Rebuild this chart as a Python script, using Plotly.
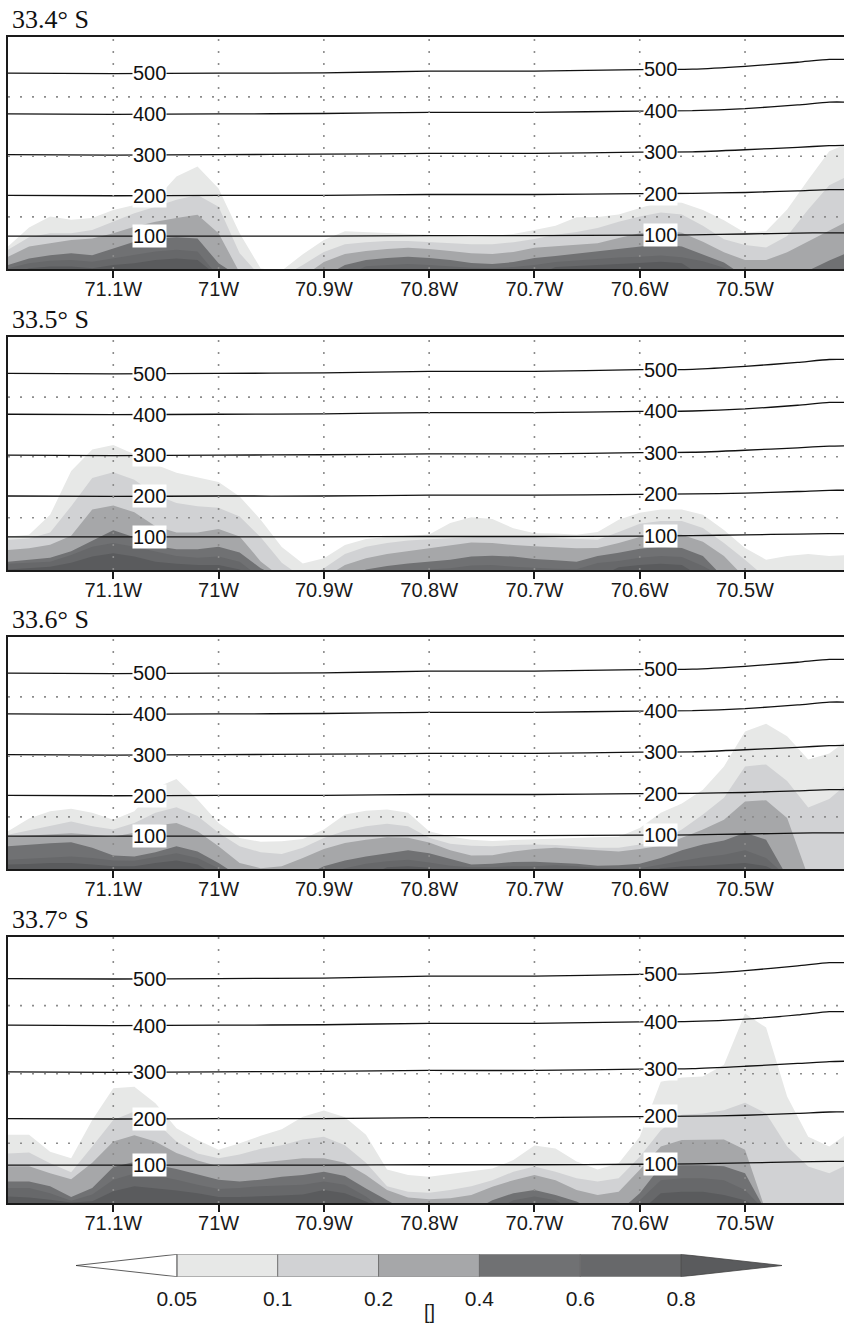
import numpy as np
import plotly.graph_objects as go

# ---------------- data ----------------
lon = [-71.20, -71.18, -71.16, -71.14, -71.12, -71.10, -71.08, -71.06, -71.04, -71.02,
       -71.00, -70.98, -70.96, -70.94, -70.92, -70.90, -70.88, -70.86, -70.84, -70.82,
       -70.80, -70.78, -70.76, -70.74, -70.72, -70.70, -70.68, -70.66, -70.64, -70.62,
       -70.60, -70.58, -70.56, -70.54, -70.52, -70.50, -70.48, -70.46, -70.44, -70.42,
       -70.40]

levels = [0.05, 0.1, 0.2, 0.4, 0.6, 0.8]
level_labels = ["0.05", "0.1", "0.2", "0.4", "0.6", "0.8"]
fill_colors = ["#e7e8e7", "#d1d2d4", "#a6a7a9", "#707173", "#67686a", "#5a5b5d"]

panel_titles = ["33.4° S", "33.5° S", "33.6° S", "33.7° S"]

# height (m) below which the field exceeds each level, panel 1 .. 4
p1_005 = [74, 121, 148, 140, 144, 164, 176, 189, 246, 271, 217, 107, 20, 15, 55, 90, 112, 110, 108, 105,
          103, 100, 98, 100, 105, 115, 125, 146, 147, 153, 169, 184, 182, 164, 139, 108, 112, 165, 238, 308, 330]
p1_01 = [66, 97, 107, 107, 115, 135, 156, 172, 189, 201, 172, 58, 0, 0, 29, 61, 80, 85, 88, 88,
         85, 83, 80, 80, 85, 93, 103, 110, 120, 135, 148, 158, 153, 125, 92, 78, 72, 100, 165, 225, 250]
p1_02 = [49, 74, 82, 90, 94, 107, 123, 135, 144, 152, 107, 10, 0, 0, 0, 36, 56, 63, 68, 71,
         68, 63, 58, 56, 61, 71, 75, 78, 82, 95, 107, 113, 108, 86, 60, 41, 41, 60, 86, 113, 140]
p1_04 = [29, 45, 53, 58, 53, 70, 86, 94, 97, 94, 33, 0, 0, 0, 0, 0, 29, 41, 46, 49,
         46, 41, 34, 31, 36, 46, 51, 57, 63, 69, 74, 80, 74, 55, 35, 0, 0, 0, 15, 40, 62]
p1_06 = [21, 33, 39, 41, 37, 45, 53, 62, 66, 62, 0, 0, 0, 0, 0, 0, 0, 26, 29, 31,
         29, 26, 22, 21, 24, 29, 36, 40, 44, 47, 49, 52, 48, 38, 22, 0, 0, 0, 0, 0, 30]
p1_08 = [0, 21, 25, 25, 21, 29, 33, 41, 45, 41, 0, 0, 0, 0, 0, 0, 0, 0, 0, 0,
         0, 0, 0, 0, 0, 0, 24, 26, 29, 31, 34, 37, 33, 0, 0, 0, 0, 0, 0, 0, 0]

p2_005 = [101, 105, 154, 261, 314, 325, 302, 277, 257, 246, 234, 199, 142, 75, 35, 48, 80, 95, 100, 103,
          106, 134, 148, 144, 121, 109, 108, 105, 112, 142, 159, 167, 167, 154, 117, 73, 44, 53, 58, 53, 56]
p2_01 = [93, 96, 111, 175, 244, 258, 240, 203, 183, 175, 171, 150, 99, 37, 0, 23, 58, 76, 85, 91,
         94, 97, 99, 101, 101, 99, 97, 94, 93, 112, 132, 139, 139, 122, 85, 44, 0, 0, 0, 0, 0]
p2_02 = [68, 72, 81, 103, 167, 177, 160, 126, 111, 111, 119, 101, 40, 0, 0, 0, 31, 48, 58, 65,
         72, 80, 86, 85, 80, 77, 75, 72, 73, 85, 100, 108, 105, 88, 53, 0, 0, 0, 0, 0, 0]
p2_04 = [39, 44, 49, 65, 91, 116, 99, 78, 70, 70, 76, 62, 23, 0, 0, 0, 0, 20, 29, 35,
         39, 44, 52, 54, 52, 46, 43, 39, 53, 61, 71, 76, 73, 53, 0, 0, 0, 0, 0, 0, 0]
p2_06 = [34, 36, 39, 56, 76, 85, 76, 64, 53, 49, 52, 39, 0, 0, 0, 0, 0, 0, 0, 0,
         20, 23, 30, 31, 27, 24, 22, 21, 36, 41, 49, 53, 51, 29, 0, 0, 0, 0, 0, 0, 0]
p2_08 = [20, 23, 27, 37, 52, 60, 52, 39, 34, 31, 31, 20, 0, 0, 0, 0, 0, 0, 0, 0,
         0, 0, 0, 0, 0, 0, 0, 0, 0, 26, 31, 34, 31, 0, 0, 0, 0, 0, 0, 0, 0]

p3_005 = [112, 143, 161, 167, 157, 140, 161, 218, 240, 190, 132, 95, 86, 87, 93, 116, 153, 162, 165, 157,
          112, 99, 91, 88, 90, 92, 93, 95, 97, 98, 120, 157, 180, 214, 271, 357, 376, 345, 288, 303, 341]
p3_01 = [103, 114, 126, 136, 124, 116, 132, 157, 171, 149, 108, 75, 60, 56, 71, 95, 113, 124, 130, 124,
         96, 81, 76, 75, 78, 79, 78, 75, 71, 71, 79, 89, 116, 153, 194, 271, 276, 235, 170, 191, 235]
p3_02 = [98, 101, 103, 107, 103, 98, 108, 126, 132, 112, 75, 34, 21, 26, 46, 68, 83, 91, 97, 96,
         84, 65, 52, 53, 62, 68, 71, 68, 65, 62, 68, 76, 96, 116, 140, 185, 188, 144, 0, 0, 0]
p3_04 = [75, 79, 82, 85, 71, 52, 50, 60, 75, 62, 34, 0, 0, 0, 0, 26, 40, 50, 58, 65,
         58, 44, 30, 32, 36, 37, 35, 32, 27, 28, 32, 46, 65, 79, 89, 108, 91, 0, 0, 0, 0]
p3_06 = [42, 45, 48, 50, 46, 40, 39, 48, 58, 46, 21, 0, 0, 0, 0, 0, 21, 32, 38, 42,
         35, 27, 23, 23, 26, 26, 28, 26, 21, 19, 21, 30, 40, 48, 54, 65, 46, 0, 0, 0, 0]
p3_08 = [30, 31, 34, 34, 30, 26, 26, 34, 40, 30, 0, 0, 0, 0, 0, 0, 0, 0, 23, 26,
         22, 0, 0, 0, 0, 0, 0, 0, 0, 0, 0, 21, 25, 27, 30, 34, 26, 0, 0, 0, 0]

p4_005 = [165, 165, 129, 115, 197, 265, 268, 233, 179, 154, 133, 147, 163, 177, 204, 217, 203, 165, 91, 79,
          75, 81, 86, 93, 111, 142, 136, 108, 91, 104, 161, 279, 288, 290, 315, 425, 395, 247, 161, 140, 172]
p4_01 = [125, 127, 104, 85, 140, 197, 215, 193, 151, 125, 115, 123, 135, 143, 155, 161, 143, 105, 55, 43,
         41, 47, 55, 68, 86, 97, 86, 72, 65, 72, 118, 175, 208, 211, 218, 234, 211, 140, 97, 83, 104]
p4_02 = [98, 98, 83, 70, 105, 151, 164, 151, 126, 110, 98, 102, 105, 110, 115, 115, 105, 79, 47, 31,
         27, 29, 36, 54, 68, 79, 68, 47, 36, 43, 90, 140, 154, 155, 155, 133, 0, 0, 0, 0, 0]
p4_04 = [65, 65, 55, 32, 51, 96, 107, 101, 92, 80, 69, 65, 69, 75, 79, 86, 77, 50, 25, 0,
         0, 0, 0, 25, 40, 47, 36, 22, 0, 0, 40, 98, 100, 100, 98, 83, 0, 0, 0, 0, 0]
p4_06 = [51, 51, 40, 24, 37, 69, 82, 78, 69, 58, 49, 51, 55, 57, 58, 65, 58, 33, 0, 0,
         0, 0, 0, 0, 25, 33, 25, 0, 0, 0, 25, 68, 72, 72, 68, 47, 0, 0, 0, 0, 0]
p4_08 = [33, 31, 26, 20, 23, 44, 55, 51, 46, 40, 32, 32, 33, 35, 37, 47, 40, 22, 0, 0,
         0, 0, 0, 0, 0, 0, 0, 0, 0, 0, 0, 40, 43, 43, 36, 25, 0, 0, 0, 0, 0]

panels = [
    [p1_005, p1_01, p1_02, p1_04, p1_06, p1_08],
    [p2_005, p2_01, p2_02, p2_04, p2_06, p2_08],
    [p3_005, p3_01, p3_02, p3_04, p3_06, p3_08],
    [p4_005, p4_01, p4_02, p4_04, p4_06, p4_08],
]

# height contour lines (same in every panel)
line_lon = [-71.2, -71.1, -71.0, -70.9, -70.8, -70.7, -70.6, -70.55, -70.5, -70.45, -70.42, -70.4]
line_levels = [100, 200, 300, 400, 500]
line_100 = [100, 100, 100, 100, 101, 101, 102, 103, 105, 107, 108, 108]
line_200 = [200, 199, 200, 200, 202, 202, 204, 205, 207, 211, 214, 214]
line_300 = [300, 299, 300, 301, 303, 303, 306, 307, 312, 318, 322, 323]
line_400 = [400, 399, 400, 401, 404, 404, 407, 408, 413, 422, 429, 429]
line_500 = [500, 499, 500, 501, 505, 505, 509, 510, 517, 527, 534, 534]
line_values = [line_100, line_200, line_300, line_400, line_500]
label_lons = [-71.066, -70.5805]

xtick_vals = [-71.1, -71.0, -70.9, -70.8, -70.7, -70.6, -70.5]
xtick_text = ["71.1W", "71W", "70.9W", "70.8W", "70.7W", "70.6W", "70.5W"]
ygrid_vals = [147, 296, 442]

for arrs in panels:
    for a in arrs:
        assert len(a) == len(lon), len(a)

# ---------------- layout geometry (pixels) ----------------
W, H = 844, 1327
panel_px = [(37, 269), (337, 570), (637, 869), (937, 1203)]
x_px = (8, 844)
x_range = [-71.2, -70.406]
y_range = [19, 589]

fig = go.Figure()
layout = dict(width=W, height=H, margin=dict(l=0, r=0, t=0, b=0),
              paper_bgcolor="white", plot_bgcolor="white", showlegend=False)

LABEL_FONT = "Liberation Sans Narrow, Arial Narrow, Liberation Sans, Arial"
shapes = []
annotations = []

for k, arrs in enumerate(panels):
    n = "" if k == 0 else str(k + 1)
    xa, ya = "x" + n, "y" + n
    top, bot = panel_px[k]
    # filled levels, light to dark
    for lev_vals, col in zip(arrs, fill_colors):
        fig.add_trace(go.Scatter(x=lon, y=lev_vals, mode="lines", fill="tozeroy",
                                 fillcolor=col, line=dict(width=0, color=col),
                                 hoverinfo="skip", xaxis=xa, yaxis=ya))
    # height contours
    for lv, vals in zip(line_levels, line_values):
        fig.add_trace(go.Scatter(x=line_lon, y=vals, mode="lines",
                                 line=dict(color="#111111", width=1.3, shape="spline", smoothing=0.6),
                                 hoverinfo="skip", xaxis=xa, yaxis=ya))
        for ll in label_lons:
            yv = float(np.interp(ll, line_lon, vals))
            annotations.append(dict(x=ll, y=yv, xref=xa, yref=ya, text=str(lv),
                                    showarrow=False, bgcolor="white", borderpad=0,
                                    font=dict(family="Liberation Sans, Arial", size=20, color="#111111")))
    # dotted grid above the fills
    for v in xtick_vals:
        shapes.append(dict(type="line", xref=xa, yref=ya + " domain", x0=v, x1=v, y0=0, y1=1,
                           line=dict(color="#8c8c8c", width=1.6, dash="2px,10px"), layer="above"))
    for v in ygrid_vals:
        shapes.append(dict(type="line", xref=xa + " domain", yref=ya, x0=0, x1=1, y0=v, y1=v,
                           line=dict(color="#8c8c8c", width=1.6, dash="2px,10px"), layer="above"))
    layout["xaxis" + n] = dict(domain=[x_px[0] / W, x_px[1] / W], range=x_range,
                               tickvals=xtick_vals, ticktext=xtick_text,
                               ticks="outside", ticklen=7, tickwidth=1.5, tickcolor="#1a1a1a",
                               ticklabelstandoff=-6,
                               showline=True, mirror=True, linecolor="#1a1a1a", linewidth=1.5,
                               showgrid=False, zeroline=False, anchor=ya,
                               tickfont=dict(family=LABEL_FONT, size=20, color="#1a1a1a"))
    layout["yaxis" + n] = dict(domain=[1 - bot / H, 1 - top / H], range=y_range,
                               showticklabels=False, ticks="", showgrid=False, zeroline=False,
                               showline=True, mirror=False, linecolor="#1a1a1a", linewidth=1.5,
                               anchor=xa)
    annotations.append(dict(x=10 / W, y=1 - (top - 18) / H, xref="paper", yref="paper",
                            xanchor="left", yanchor="middle", showarrow=False,
                            text=panel_titles[k],
                            font=dict(family="Liberation Serif, Times New Roman", size=26, color="#111111")))

# ---------------- colour bar ----------------
cb_x = "x5"
cb_y = "y5"
nb = len(levels) - 1
for j in range(nb):
    fig.add_trace(go.Scatter(x=[j, j + 1, j + 1, j, j], y=[0, 0, 1, 1, 0], mode="lines",
                             fill="toself", fillcolor=fill_colors[j],
                             line=dict(color="#6a6a6a", width=0.8),
                             hoverinfo="skip", xaxis=cb_x, yaxis=cb_y))
fig.add_trace(go.Scatter(x=[0, -1, 0, 0], y=[0, 0.5, 1, 0], mode="lines", fill="toself",
                         fillcolor="white", line=dict(color="#333333", width=0.8),
                         hoverinfo="skip", xaxis=cb_x, yaxis=cb_y))
fig.add_trace(go.Scatter(x=[nb, nb + 1, nb, nb], y=[0, 0.5, 1, 0], mode="lines", fill="toself",
                         fillcolor=fill_colors[-1], line=dict(color="#444444", width=0.8),
                         hoverinfo="skip", xaxis=cb_x, yaxis=cb_y))
layout["xaxis5"] = dict(domain=[76 / W, 782 / W], range=[-1, nb + 1], anchor=cb_y,
                        tickvals=list(range(len(levels))), ticktext=level_labels,
                        ticks="outside", ticklen=3, tickcolor="rgba(0,0,0,0)",
                        showline=False, showgrid=False, zeroline=False,
                        tickfont=dict(family="Liberation Sans, Arial", size=21, color="#1a1a1a"))
layout["yaxis5"] = dict(domain=[1 - 1276.7 / H, 1 - 1254.3 / H], range=[0, 1], anchor=cb_x,
                        showticklabels=False, ticks="", showline=False, showgrid=False, zeroline=False)
annotations.append(dict(x=(nb) / 2, y=1 - 1325 / H, xref=cb_x, yref="paper", text="[]",
                        showarrow=False, yanchor="bottom",
                        font=dict(family="Liberation Sans, Arial", size=20, color="#1a1a1a")))

layout["shapes"] = shapes
layout["annotations"] = annotations
fig.update_layout(**layout)
fig.write_html("out.html")
